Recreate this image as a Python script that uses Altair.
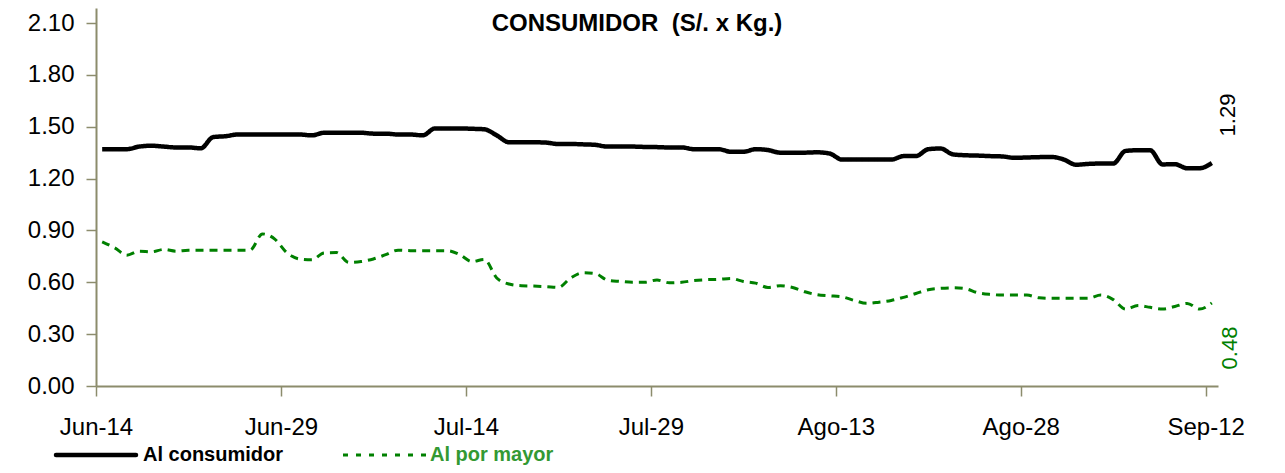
import altair as alt
import pandas as pd

# ---------------- data ----------------
dates = pd.date_range("2013-06-14", periods=91, freq="D").strftime("%Y-%m-%dT12:00:00Z").tolist()

consumidor = [
    1.37, 1.37, 1.37, 1.385, 1.39, 1.385, 1.38, 1.38, 1.375, 1.44,
    1.445, 1.455, 1.455, 1.455, 1.455, 1.455, 1.455, 1.45, 1.465, 1.465,
    1.465, 1.465, 1.46, 1.46, 1.455, 1.455, 1.45, 1.49, 1.49, 1.49,
    1.488, 1.485, 1.45, 1.41, 1.41, 1.41, 1.408, 1.40, 1.40, 1.398,
    1.395, 1.385, 1.385, 1.385, 1.383, 1.382, 1.38, 1.38, 1.37, 1.37,
    1.37, 1.355, 1.355, 1.37, 1.365, 1.35, 1.35, 1.35, 1.352, 1.345,
    1.31, 1.31, 1.31, 1.31, 1.31, 1.33, 1.33, 1.37, 1.374, 1.34,
    1.335, 1.333, 1.33, 1.328, 1.32, 1.322, 1.324, 1.325, 1.31, 1.28,
    1.285, 1.287, 1.287, 1.36, 1.364, 1.364, 1.282, 1.283, 1.26, 1.26,
    1.29,
]

por_mayor = [
    0.834, 0.80, 0.757, 0.78, 0.776, 0.79, 0.78, 0.785, 0.785, 0.785,
    0.785, 0.785, 0.786, 0.88, 0.85, 0.77, 0.735, 0.73, 0.77, 0.772,
    0.715, 0.72, 0.735, 0.76, 0.786, 0.783, 0.783, 0.783, 0.783, 0.76,
    0.72, 0.732, 0.625, 0.59, 0.58, 0.578, 0.575, 0.57, 0.625, 0.655,
    0.65, 0.612, 0.605, 0.60, 0.60, 0.613, 0.597, 0.60, 0.61, 0.615,
    0.617, 0.622, 0.605, 0.595, 0.57, 0.58, 0.57, 0.545, 0.528, 0.522,
    0.516, 0.495, 0.478, 0.485, 0.495, 0.513, 0.535, 0.557, 0.565, 0.568,
    0.563, 0.54, 0.53, 0.526, 0.526, 0.526, 0.51, 0.507, 0.507, 0.507,
    0.508, 0.526, 0.50, 0.445, 0.465, 0.455, 0.445, 0.46, 0.478, 0.445,
    0.48,
]

series_names = ["Al consumidor", "Al por mayor"]
series_colors = ["#000000", "#008000"]
legend_text_colors = ["#000000", "#339933"]
tick_dates = [(2013, 6, 14), (2013, 6, 29), (2013, 7, 14), (2013, 7, 29),
              (2013, 8, 13), (2013, 8, 28), (2013, 9, 12)]
y_ticks = [0.0, 0.3, 0.6, 0.9, 1.2, 1.5, 1.8, 2.1]
title_text = "CONSUMIDOR \u00a0(S/. x Kg.)"

df = pd.DataFrame({
    "date": dates + dates,
    "value": consumidor + por_mayor,
    "serie": [series_names[0]] * len(dates) + [series_names[1]] * len(dates),
})

FONT = "Liberation Sans"
AXIS_COLOR = "#8c8c6c"

x_enc = alt.X(
    "date:T",
    scale=alt.Scale(
        type="utc",
        domain=[alt.DateTime(year=2013, month=6, date=14, utc=True),
                alt.DateTime(year=2013, month=9, date=13, utc=True)],
    ),
    axis=alt.Axis(
        values=[alt.DateTime(year=y, month=m, date=d, utc=True) for (y, m, d) in tick_dates],
        labelExpr="['Ene','Feb','Mar','Abr','May','Jun','Jul','Ago','Sep','Oct','Nov','Dic'][utcmonth(datum.value)] + '-' + utcdate(datum.value)",
        title=None, grid=False,
        domainColor=AXIS_COLOR, domainWidth=2,
        tickColor=AXIS_COLOR, tickWidth=1.5, tickSize=10,
        labelFontSize=24, labelFont=FONT, labelColor="#000000",
        labelPadding=19, labelFlush=False, labelOverlap=False,
    ),
)
y_enc = alt.Y(
    "value:Q",
    scale=alt.Scale(domain=[0, 2.1868], nice=False, zero=True),
    axis=alt.Axis(
        values=y_ticks, format=".2f", title=None, grid=False,
        domainColor=AXIS_COLOR, domainWidth=2,
        tickColor=AXIS_COLOR, tickWidth=1.5, tickSize=10,
        labelFontSize=24, labelFont=FONT, labelColor="#000000",
        labelPadding=12, labelFlush=False, labelOverlap=False,
    ),
)

lines = alt.Chart(df).mark_line(interpolate="monotone").encode(
    x=x_enc,
    y=y_enc,
    color=alt.Color("serie:N", scale=alt.Scale(domain=series_names, range=series_colors), legend=None),
    strokeDash=alt.StrokeDash("serie:N", scale=alt.Scale(domain=series_names, range=[[1, 0], [8, 6]]), legend=None),
    strokeWidth=alt.StrokeWidth("serie:N", scale=alt.Scale(domain=series_names, range=[4.5, 3]), legend=None),
)

last = df[df["date"] == dates[-1]]

label_cons = alt.Chart(last[last["serie"] == series_names[0]]).mark_text(
    angle=270, align="center", baseline="middle", dx=48, dy=16,
    fontSize=22, font=FONT, color=series_colors[0],
).encode(x="date:T", y="value:Q", text=alt.Text("value:Q", format=".2f"))

label_may = alt.Chart(last[last["serie"] == series_names[1]]).mark_text(
    angle=270, align="center", baseline="middle", dx=-45, dy=18,
    fontSize=22, font=FONT, color=series_colors[1],
).encode(x="date:T", y="value:Q", text=alt.Text("value:Q", format=".2f"))

title = alt.Chart(pd.DataFrame({"t": [title_text]})).mark_text(
    align="center", baseline="alphabetic", fontSize=24, fontWeight="bold",
    font=FONT, color="#000000",
).encode(text="t:N", x=alt.value(541), y=alt.value(23))

legend_df = pd.DataFrame({"name": series_names, "tc": legend_text_colors})

leg_line1 = alt.Chart(legend_df).mark_rule(
    color=series_colors[0], strokeWidth=4.5, strokeCap="round"
).transform_filter(alt.datum.name == series_names[0]).encode(
    x=alt.value(-40), x2=alt.value(40), y=alt.value(447))
leg_line2 = alt.Chart(legend_df).mark_rule(
    color=series_colors[1], strokeWidth=3, strokeDash=[5, 8]
).transform_filter(alt.datum.name == series_names[1]).encode(
    x=alt.value(247), x2=alt.value(330), y=alt.value(447))
leg_text1 = alt.Chart(legend_df).mark_text(
    align="left", baseline="middle", fontSize=20, fontWeight="bold", font=FONT,
    color=legend_text_colors[0],
).transform_filter(alt.datum.name == series_names[0]).encode(
    text="name:N", x=alt.value(47), y=alt.value(447))
leg_text2 = alt.Chart(legend_df).mark_text(
    align="left", baseline="middle", fontSize=20, fontWeight="bold", font=FONT,
    color=legend_text_colors[1],
).transform_filter(alt.datum.name == series_names[1]).encode(
    text="name:N", x=alt.value(334), y=alt.value(447))

chart = alt.layer(
    lines, label_cons, label_may, title, leg_line1, leg_line2, leg_text1, leg_text2
).properties(
    width=1122, height=378,
    autosize="none",
    padding={"left": 88, "top": 0, "right": 59, "bottom": 79},
    background="#ffffff",
).configure_view(stroke=None)

chart.save("out.html", embed_options={"renderer": "svg", "actions": False})
